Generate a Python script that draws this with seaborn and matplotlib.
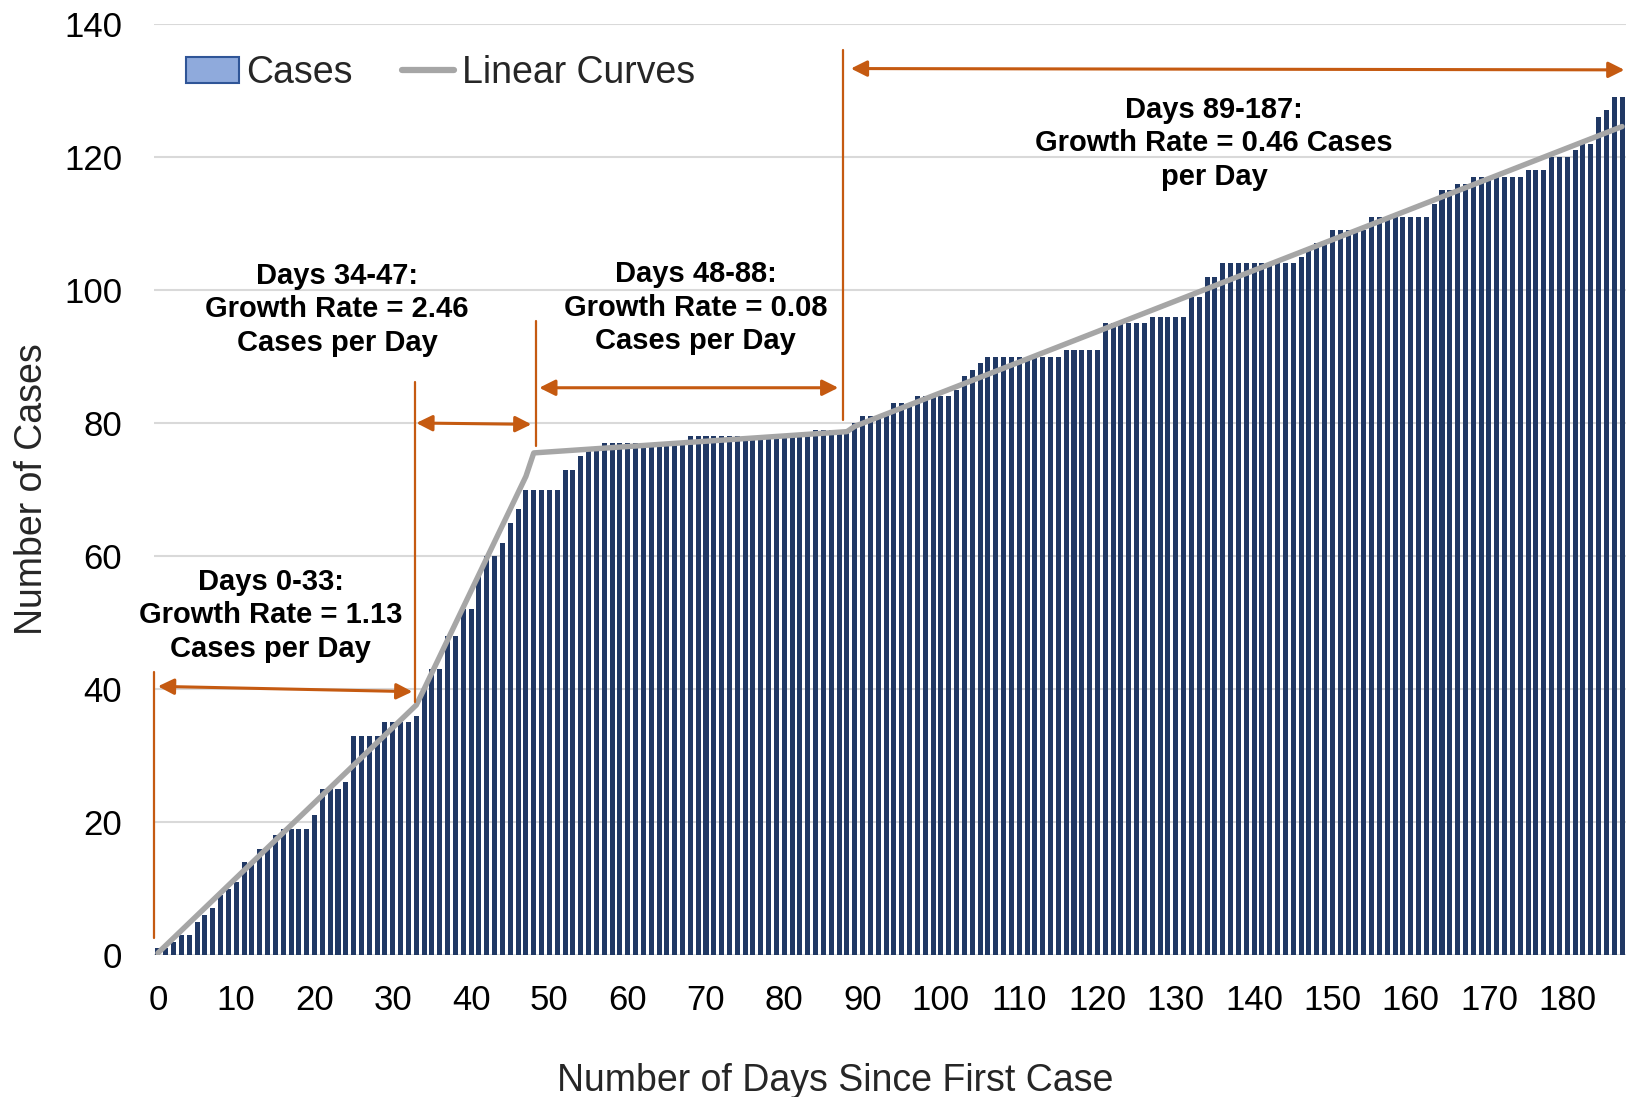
import matplotlib
matplotlib.use("Agg")
import matplotlib.pyplot as plt
import seaborn as sns
import pandas as pd
import numpy as np
from matplotlib.patches import Patch
from matplotlib.lines import Line2D

# ---------------- data ----------------
days = list(range(188))
cases = [
    1, 1, 2, 3, 3, 5, 6, 7, 9, 10,
    11, 14, 14, 16, 16, 18, 19, 19, 19, 19,
    21, 25, 25, 25, 26, 33, 33, 33, 33, 35,
    35, 35, 35, 36, 40, 43, 43, 48, 48, 52,
    52, 57, 60, 60, 62, 65, 67, 70, 70, 70,
    70, 70, 73, 73, 75, 76, 76, 77, 77, 77,
    77, 77, 77, 77, 77, 77, 77, 77, 78, 78,
    78, 78, 78, 78, 78, 78, 78, 78, 78, 78,
    78, 78, 78, 78, 79, 79, 79, 79, 79, 80,
    81, 81, 81, 81, 83, 83, 83, 84, 84, 84,
    84, 84, 85, 87, 88, 89, 90, 90, 90, 90,
    90, 90, 90, 90, 90, 90, 91, 91, 91, 91,
    91, 95, 95, 95, 95, 95, 95, 96, 96, 96,
    96, 96, 99, 99, 102, 102, 104, 104, 104, 104,
    104, 104, 104, 104, 104, 104, 105, 106, 107, 107,
    109, 109, 109, 109, 109, 111, 111, 111, 111, 111,
    111, 111, 111, 113, 115, 115, 116, 116, 117, 117,
    117, 117, 117, 117, 117, 118, 118, 118, 120, 120,
    120, 121, 122, 122, 126, 127, 129, 129,
]

# linear fit segments (start day, end day, slope, value at start day)
seg_start = [0, 34, 48, 89]
seg_end = [33, 47, 88, 187]
seg_slope = [1.13, 2.46, 0.08, 0.46]
seg_start_value = [0.3, 40.0, 75.5, 79.5]

seg_labels = [
    "Days 0-33:\nGrowth Rate = 1.13\nCases per Day",
    "Days 34-47:\nGrowth Rate = 2.46\nCases per Day",
    "Days 48-88:\nGrowth Rate = 0.08\nCases per Day",
    "Days 89-187:\nGrowth Rate = 0.46 Cases\nper Day",
]
label_pos = [(14.4, 51.1), (22.9, 97.1), (68.7, 97.3), (134.9, 122.1)]
# orange markers: vertical lines (x, y0, y1) and arrows (x0, y0, x1, y1)
vlines = [(-0.55, 2.5, 42.6), (32.8, 38.0, 86.2), (48.3, 76.6, 95.3), (87.5, 80.4, 136.1)]
arrows = [(0.0, 40.4, 32.5, 39.6), (33.0, 80.0, 47.7, 79.8),
          (48.7, 85.3, 86.9, 85.3), (88.5, 133.3, 187.3, 133.1)]

fit_x, fit_y = [], []
for s, e, m, v in zip(seg_start, seg_end, seg_slope, seg_start_value):
    for d in range(s, e + 1):
        fit_x.append(d)
        fit_y.append(v + m * (d - s))

df = pd.DataFrame({"day": days, "cases": cases})
fit_df = pd.DataFrame({"day": fit_x, "fit": fit_y})

# ---------------- style ----------------
sns.set_theme(style="white")
plt.rcParams["font.family"] = ["Liberation Sans", "DejaVu Sans"]

BAR = "#203864"
ORANGE = "#C55A11"
GRAY = "#A6A6A6"

fig = plt.figure(figsize=(16.26, 10.97), dpi=100)
ax = fig.add_axes([154 / 1626, (1097 - 955) / 1097, 1 - 154 / 1626, 931 / 1097])

sns.barplot(data=df, x="day", y="cases", native_scale=True, color=BAR,
            saturation=1, width=0.64, edgecolor="none", linewidth=0, ax=ax, zorder=2)
sns.lineplot(data=fit_df, x="day", y="fit", color=GRAY, linewidth=3.9,
             estimator=None, sort=False, ax=ax, zorder=3)

ax.set_xlim(-0.5, 187.5)
ax.set_ylim(0, 140)
ax.set_yticks(range(0, 141, 20))
ax.set_xticks(range(0, 181, 10))
ax.grid(axis="y", color="#D9D9D9", linewidth=1.5, zorder=0)
ax.grid(axis="x", visible=False)
ax.set_axisbelow(True)
for sp in ax.spines.values():
    sp.set_visible(False)
ax.tick_params(axis="both", length=0, labelsize=25, colors="black")
ax.tick_params(axis="y", pad=23)
ax.tick_params(axis="x", pad=21)

ax.set_xlabel("Number of Days Since First Case", fontsize=27, va="center")
ax.set_ylabel("Number of Cases", fontsize=27, va="center")
ax.xaxis.set_label_coords(0.4626, -0.135)
ax.yaxis.set_label_coords(-0.083, 0.5)

# annotations
for (x, y0, y1) in vlines:
    ax.plot([x, x], [y0, y1], color=ORANGE, lw=1.6, zorder=4, clip_on=False)
for (x0, y0, x1, y1) in arrows:
    ax.annotate("", xy=(x1, y1), xytext=(x0, y0),
                arrowprops=dict(arrowstyle="<|-|>", color=ORANGE, lw=2.2,
                                mutation_scale=24, shrinkA=0, shrinkB=0),
                annotation_clip=False, zorder=4)
for txt, (x, y) in zip(seg_labels, label_pos):
    ax.text(x, y, txt, ha="center", va="center", fontsize=21,
            fontweight="bold", linespacing=1.25, color="black", zorder=5)

handles = [Patch(facecolor="#8FAADC", edgecolor="#2F5597", linewidth=1.5),
           Line2D([], [], color=GRAY, lw=4.5)]
ax.legend(handles, ["Cases", "Linear Curves"], loc="center left",
          bbox_to_anchor=(0.022, 0.947), ncol=2, frameon=False, fontsize=27,
          handlelength=1.4, handletextpad=0.2, columnspacing=1.3,
          borderpad=0, borderaxespad=0)

fig.savefig("out.png", dpi=100)
